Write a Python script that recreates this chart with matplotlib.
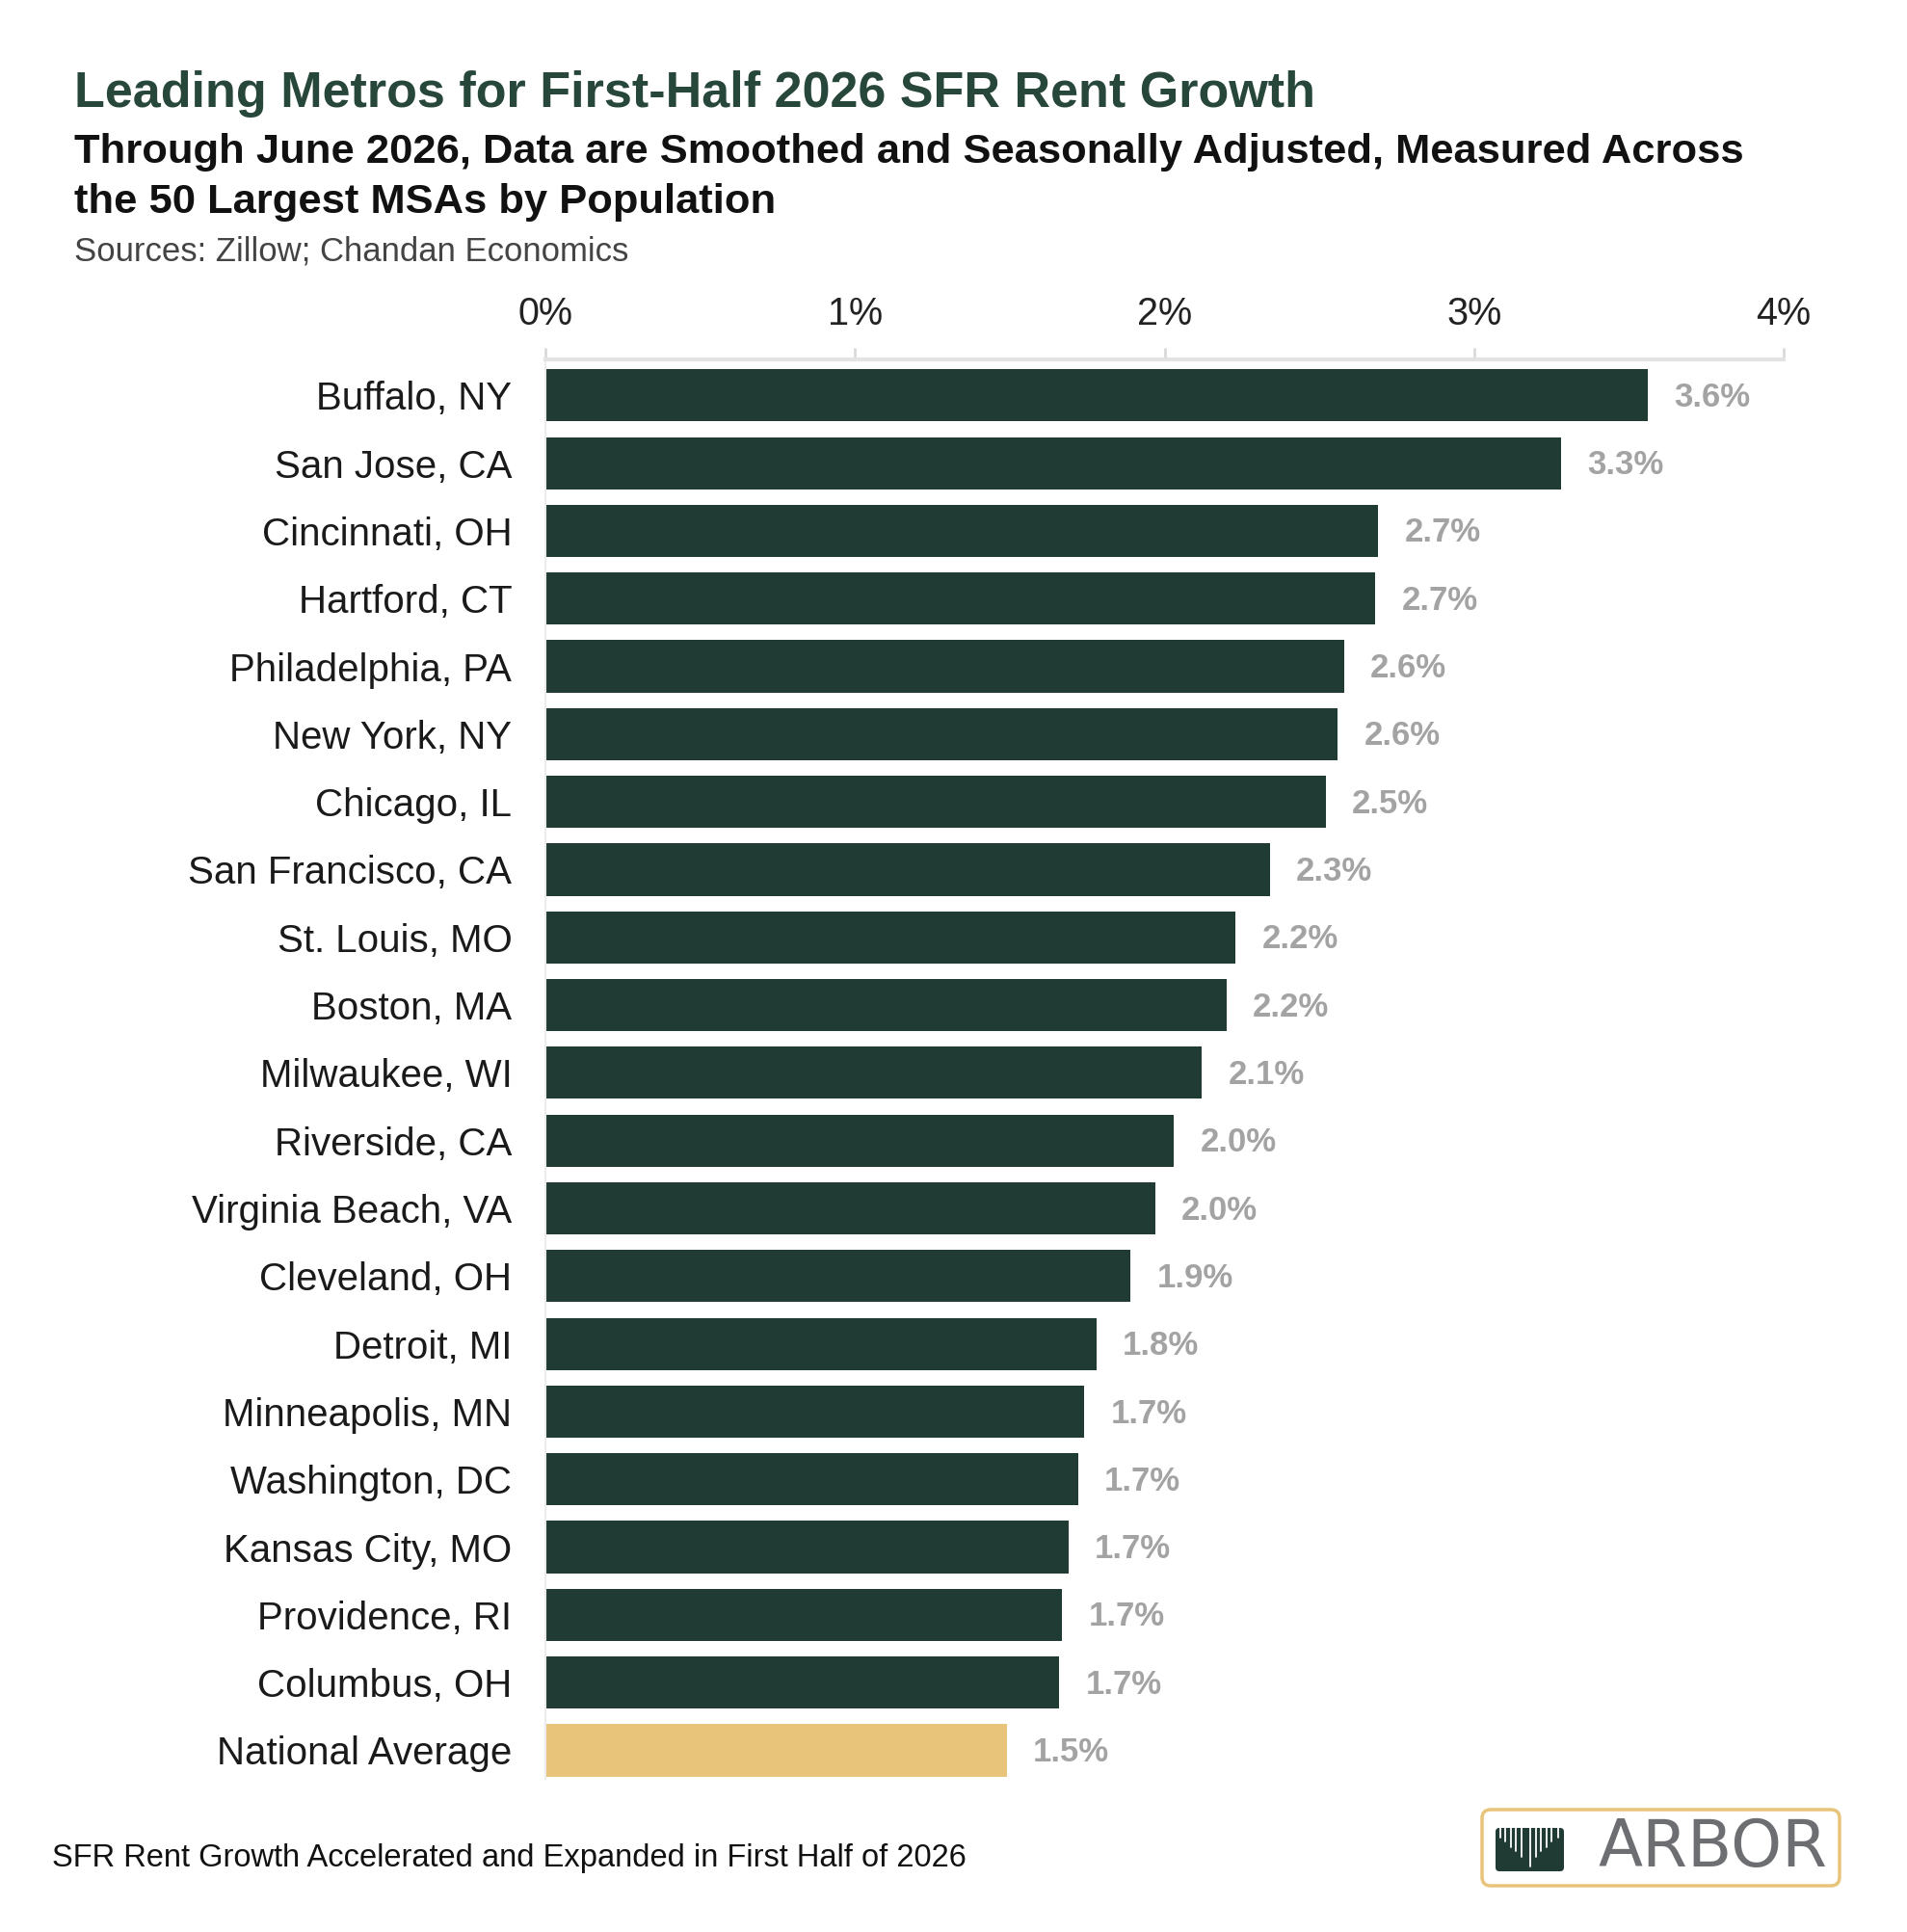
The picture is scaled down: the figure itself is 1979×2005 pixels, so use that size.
import matplotlib
matplotlib.use("Agg")
import matplotlib.pyplot as plt
from matplotlib.patches import FancyBboxPatch

# --- data ---
metros = [
    "Buffalo, NY", "San Jose, CA", "Cincinnati, OH", "Hartford, CT",
    "Philadelphia, PA", "New York, NY", "Chicago, IL", "San Francisco, CA",
    "St. Louis, MO", "Boston, MA", "Milwaukee, WI", "Riverside, CA",
    "Virginia Beach, VA", "Cleveland, OH", "Detroit, MI", "Minneapolis, MN",
    "Washington, DC", "Kansas City, MO", "Providence, RI", "Columbus, OH",
    "National Average",
]
growth = [3.56, 3.28, 2.69, 2.68, 2.58, 2.56, 2.52, 2.34, 2.23, 2.20, 2.12,
          2.03, 1.97, 1.89, 1.78, 1.74, 1.72, 1.69, 1.67, 1.66, 1.49]
x_ticks = [0, 1, 2, 3, 4]
x_ticklabels = ["0%", "1%", "2%", "3%", "4%"]

GREEN = "#1f3b33"
GOLD = "#e8c47a"
TITLE_GREEN = "#28473b"
VAL_GRAY = "#a3a3a3"

plt.rcParams["font.family"] = ["Liberation Sans", "DejaVu Sans"]

fig = plt.figure(figsize=(19.79, 20.05), dpi=100)

# --- titles ---
fig.text(77 / 1979, 1 - 98 / 2005, "Leading Metros for First-Half 2026 SFR Rent Growth",
         fontsize=37.5, fontweight="bold", color=TITLE_GREEN, va="center", ha="left")
fig.text(77 / 1979, 1 - 158 / 2005,
         "Through June 2026, Data are Smoothed and Seasonally Adjusted, Measured Across",
         fontsize=31.3, fontweight="bold", color="#111111", va="center", ha="left")
fig.text(77 / 1979, 1 - 210 / 2005, "the 50 Largest MSAs by Population",
         fontsize=31.3, fontweight="bold", color="#111111", va="center", ha="left")
fig.text(77 / 1979, 1 - 261 / 2005, "Sources: Zillow; Chandan Economics",
         fontsize=25, color="#444444", va="center", ha="left")

# --- bar chart ---
ax = fig.add_axes([566 / 1979, 1 - 1846 / 2005, (1851 - 566) / 1979, 1473 / 2005])
pos = list(range(len(metros)))
colors = [GREEN] * (len(metros) - 1) + [GOLD]
ax.barh(pos, growth, height=0.77, color=colors, zorder=2)
for p, v in zip(pos, growth):
    ax.text(v + 0.085, p + 0.03, f"{v:.1f}%", va="center", ha="left",
            fontsize=25, fontweight="bold", color=VAL_GRAY)

ax.set_xlim(0, 4)
ax.set_ylim(20.42, -0.53)
ax.xaxis.tick_top()
ax.set_xticks(x_ticks, x_ticklabels)
ax.tick_params(axis="x", which="both", length=9, width=2, color="#d9d9d9",
               labelsize=28.5, labelcolor="#222222", pad=11)
ax.set_yticks(pos, metros)
ax.tick_params(axis="y", length=0, labelsize=29, labelcolor="#1a1a1a", pad=25)

for s in ["right", "bottom"]:
    ax.spines[s].set_visible(False)
ax.spines["top"].set_color("#e3e3e3")
ax.spines["top"].set_linewidth(3)
ax.spines["left"].set_color("#ececec")
ax.spines["left"].set_linewidth(1.5)

# --- footer ---
fig.text(54 / 1979, 1 - 1928 / 2005,
         "SFR Rent Growth Accelerated and Expanded in First Half of 2026",
         fontsize=23.5, color="#111111", va="center", ha="left")

# --- logo ---
lax = fig.add_axes([1536 / 1979, 1 - 1959 / 2005, 375 / 1979, 83 / 2005])
lax.set_xlim(0, 375)
lax.set_ylim(0, 83)
lax.axis("off")
lax.add_patch(FancyBboxPatch((2, 2), 371, 79, boxstyle="round,pad=0,rounding_size=9",
                             fc="white", ec=GOLD, lw=2.5))
lax.add_patch(FancyBboxPatch((16, 17), 71, 45, boxstyle="round,pad=0,rounding_size=4",
                             fc=GREEN, ec="none"))
line_x = [21, 26, 31.5, 37, 42.5, 51.5, 57.5, 63, 68.5, 74, 81]
line_len = [10, 14, 20, 24, 30, 40, 30, 24, 20, 14, 10]
for lx, ll in zip(line_x, line_len):
    lax.plot([lx, lx], [62, 62 - ll], color="white", lw=1.3, solid_capstyle="round")
lax.text(241, 41, "ARBOR", fontsize=48.5, color="#6d6e71", ha="center", va="center",
         family=["DejaVu Sans"])

fig.savefig("out.png", dpi=100)
